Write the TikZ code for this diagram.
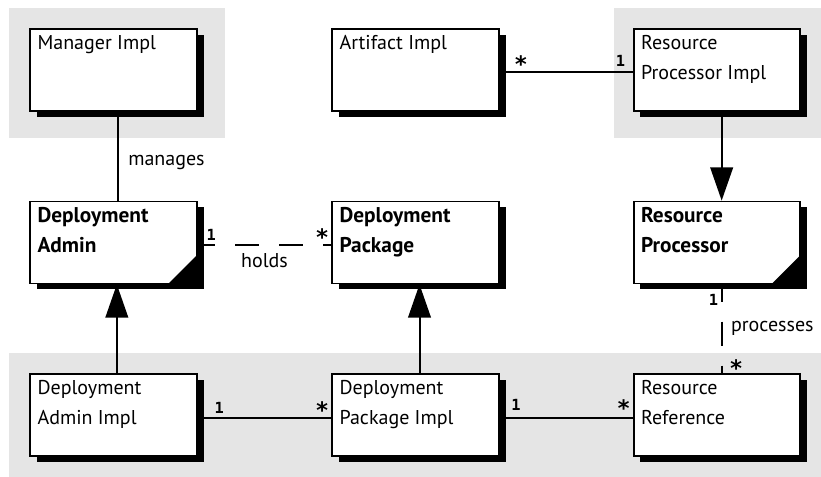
\documentclass[tikz,border=0pt]{standalone}
\usepackage{fontspec}
\setmainfont{PT Sans}
\newfontfamily\multfont{DejaVu Sans Mono}
\usepackage{tikz}
\usetikzlibrary{arrows.meta,shadows}
\definecolor{bgGray}{HTML}{E5E5E5}

\begin{document}
\begin{tikzpicture}[
  x=0.75pt, y=-0.75pt,
  every node/.style={font=\fontsize{15}{22.5}\selectfont},
  umlbox/.style={
    draw, line width=1.3pt, fill=white,
    minimum width=125pt, minimum height=61.5pt, inner sep=0pt,
    drop shadow={shadow xshift=5pt, shadow yshift=-4.5pt, opacity=1, fill=black},
  },
  boxtext/.style={anchor=north west, align=left, inner xsep=6pt, inner ysep=5pt},
  boldtext/.style={boxtext, font=\fontsize{16}{22.5}\selectfont\bfseries},
  link/.style={line width=1.5pt},
  holdlink/.style={link, dash pattern=on 18pt off 15pt, dash phase=5pt},
  realize/.style={link, -{Triangle[length=25pt,width=17pt]}},
  mult/.style={font=\multfont\bfseries\fontsize{11.5}{13}\selectfont, inner sep=1pt},
  many/.style={mult, font=\multfont\bfseries\fontsize{17}{17}\selectfont, inner sep=0pt},
]
\useasboundingbox (0,0) rectangle (821,477);

% ─── GRAY AREAS ───
\fill[bgGray] (9,8) rectangle (225,138);
\fill[bgGray] (614,8) rectangle (821,138);
\fill[bgGray] (9,353) rectangle (821,477);

% ─── BOXES ───
\node[umlbox, label={[boxtext]north west:Manager Impl}] (mgr) at (113.5,70) {};
\node[umlbox, label={[boxtext]north west:Artifact Impl}] (art) at (415.5,70) {};
\node[umlbox, label={[boxtext]north west:Resource\\Processor Impl}] (rpi) at (717,70) {};

\node[umlbox, label={[boldtext]north west:Deployment\\Admin}] (da) at (113.5,242.5) {};
\node[umlbox, label={[boldtext]north west:Deployment\\Package}] (dp) at (415.5,242.5) {};
\node[umlbox, label={[boldtext]north west:Resource\\Processor}] (rp) at (717,242.5) {};

\node[umlbox, label={[boxtext]north west:Deployment\\Admin Impl}] (dai) at (113.5,415) {};
\node[umlbox, label={[boxtext]north west:Deployment\\Package Impl}] (dpi) at (415.5,415) {};
\node[umlbox, label={[boxtext]north west:Resource\\Reference}] (rr) at (717,415) {};

% folded corners
\fill (da.south east) -- ++(-30,0) -- ++(30,-30) -- cycle;
\fill (rp.south east) -- ++(-30,0) -- ++(30,-30) -- cycle;

% ─── ASSOCIATIONS ───
\draw[link] ([xshift=3pt]mgr.south) -- node[pos=0.57, right=4pt] (manages) {manages} ([xshift=3pt]da.north);

\draw[link] ([yshift=-1.5pt]art.east) -- ([yshift=-1.5pt]rpi.west)
  node[many, pos=0, anchor=south west, xshift=10pt, yshift=-1pt] (artM) {*}
  node[mult, pos=1, anchor=south east, xshift=-4pt, yshift=2pt] (rpiM) {1};

\draw[holdlink] ([yshift=-2pt]da.east) -- node[below=2pt] (holds) {holds} ([yshift=-2pt]dp.west)
  node[mult, pos=0, anchor=south west, xshift=5pt, yshift=2pt] (daM) {1}
  node[many, pos=1, anchor=south east, xshift=-1pt, yshift=-1pt] (dpM) {*};

\draw[link] ([yshift=-2.5pt]dai.east) -- ([yshift=-2.5pt]dpi.west)
  node[mult, pos=0, anchor=south west, xshift=11pt, yshift=2pt] (daiM) {1}
  node[many, pos=1, anchor=south east, xshift=-1pt, yshift=-1pt] (dpiM) {*};

\draw[link] ([yshift=-2.5pt]dpi.east) -- ([yshift=-2.5pt]rr.west)
  node[mult, pos=0, anchor=south west, xshift=7pt, yshift=4pt] (dpiR) {1}
  node[many, pos=1, anchor=south east, xshift=-1pt, yshift=1pt] (rrM) {*};

\draw[holdlink] ([xshift=3.5pt]rp.south) -- node[right=3pt] (procs) {processes} ([xshift=3.5pt]rr.north)
  node[mult, pos=0, anchor=north east, xshift=-1pt, yshift=-6pt] (rpM) {1}
  node[many, pos=1, anchor=south west, xshift=5pt, yshift=-3pt] (rrP) {*};

% ─── REALIZATIONS ───
\draw[realize] ([xshift=3.5pt]rpi.south) -- ([xshift=3.5pt]rp.north);
\draw[realize] ([xshift=2.5pt]dai.north) -- ([xshift=2.5pt]da.south);
\draw[realize] ([xshift=3pt]dpi.north) -- ([xshift=3pt]dp.south);

\end{tikzpicture}
\end{document}
